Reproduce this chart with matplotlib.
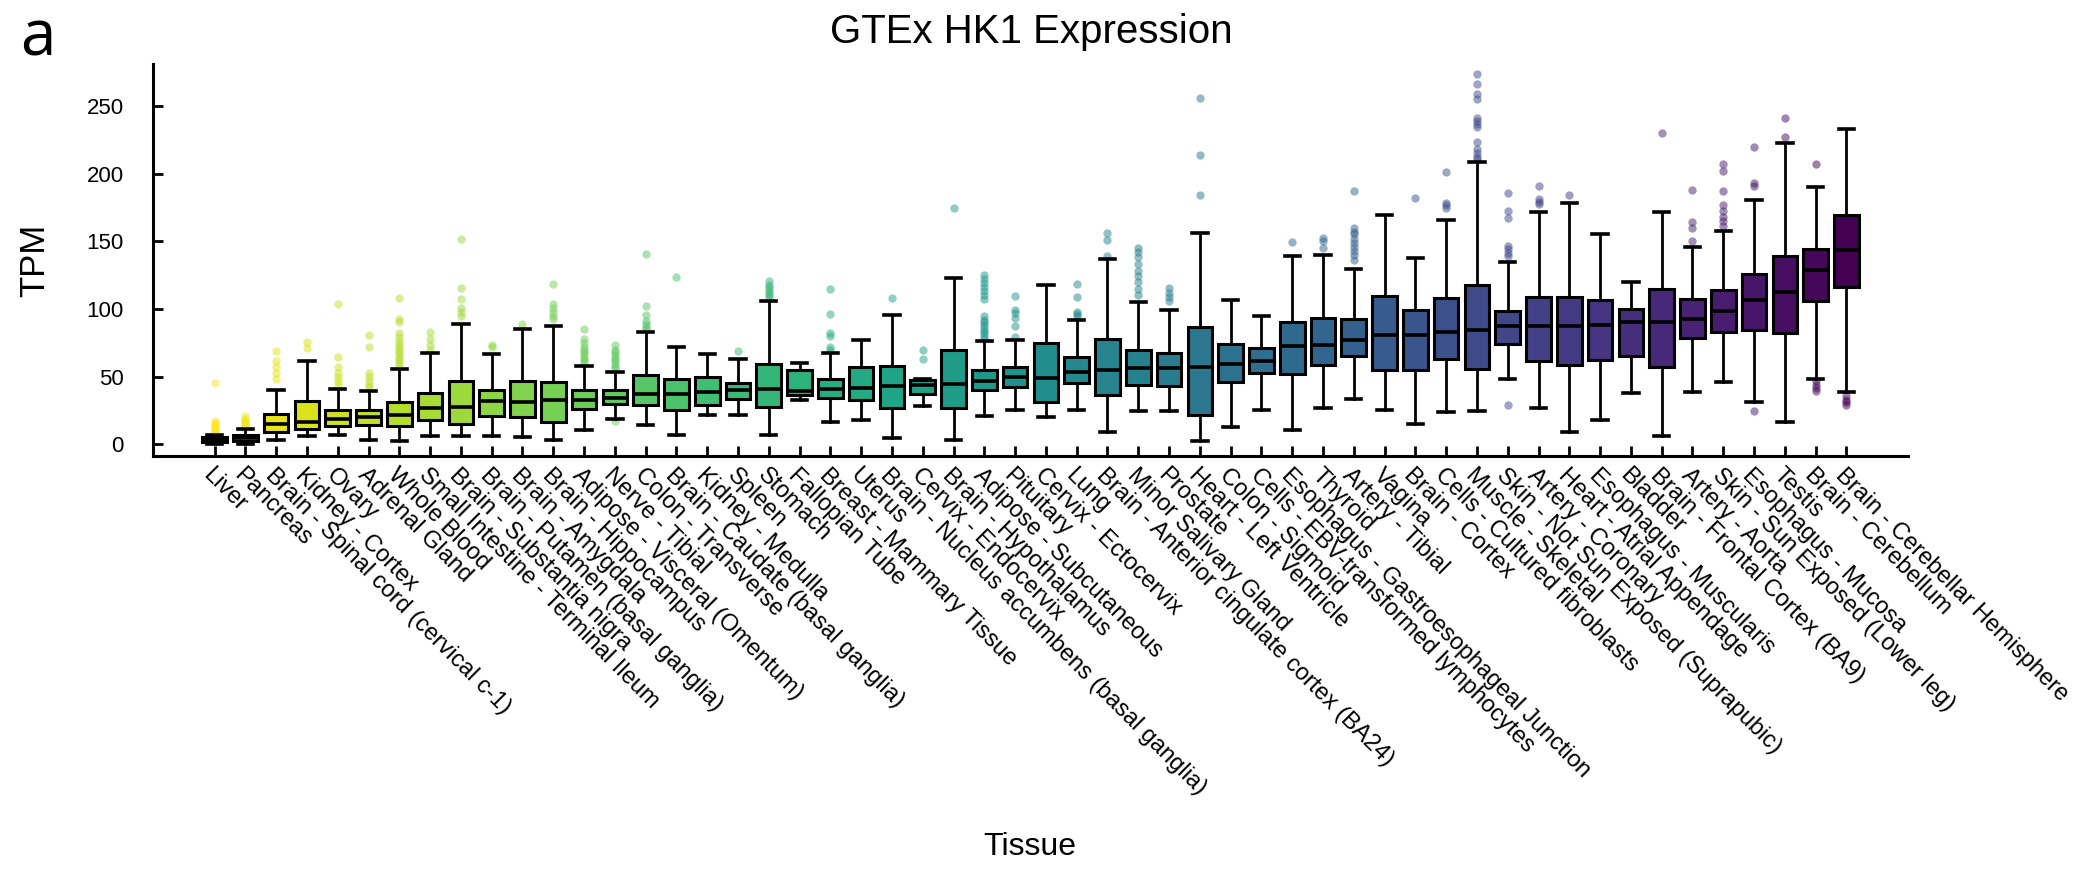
import matplotlib
matplotlib.use("Agg")
import matplotlib.pyplot as plt
import numpy as np

plt.rcParams['font.family'] = ['Liberation Sans', 'DejaVu Sans']

tissues = [
    "Liver", "Pancreas", "Brain - Spinal cord (cervical c-1)", "Kidney - Cortex", "Ovary",
    "Adrenal Gland", "Whole Blood", "Small Intestine - Terminal Ileum", "Brain - Substantia nigra",
    "Brain - Putamen (basal ganglia)", "Brain - Amygdala", "Brain - Hippocampus",
    "Adipose - Visceral (Omentum)", "Nerve - Tibial", "Colon - Transverse",
    "Brain - Caudate (basal ganglia)", "Kidney - Medulla", "Spleen", "Stomach", "Fallopian Tube",
    "Breast - Mammary Tissue", "Uterus", "Brain - Nucleus accumbens (basal ganglia)",
    "Cervix - Endocervix", "Brain - Hypothalamus", "Adipose - Subcutaneous", "Pituitary",
    "Cervix - Ectocervix", "Lung", "Brain - Anterior cingulate cortex (BA24)",
    "Minor Salivary Gland", "Prostate", "Heart - Left Ventricle", "Colon - Sigmoid",
    "Cells - EBV-transformed lymphocytes", "Esophagus - Gastroesophageal Junction", "Thyroid",
    "Artery - Tibial", "Vagina", "Brain - Cortex", "Cells - Cultured fibroblasts",
    "Muscle - Skeletal", "Skin - Not Sun Exposed (Suprapubic)", "Artery - Coronary",
    "Heart - Atrial Appendage", "Esophagus - Muscularis", "Bladder",
    "Brain - Frontal Cortex (BA9)", "Artery - Aorta", "Skin - Sun Exposed (Lower leg)",
    "Esophagus - Mucosa", "Testis", "Brain - Cerebellum", "Brain - Cerebellar Hemisphere",
]

whisker_low = [0.5, 0.3, 2.8, 5.8, 7.0, 2.8, 2.1, 5.8, 6.3, 5.8, 5.1, 2.8, 10.2, 19.0, 14.4,
               7.0, 21.3, 21.3, 6.5, 32.4, 16.4, 17.6, 4.6, 28.5, 3.3, 20.6, 25.0, 19.9, 25.5,
               8.8, 24.3, 24.3, 2.1, 12.7, 25.0, 10.7, 26.8, 33.4, 25.5, 14.9, 23.8, 24.3, 48.5,
               26.8, 8.8, 18.1, 37.9, 6.3, 38.6, 45.8, 31.2, 16.4, 48.2, 38.4]
q1 = [1.6, 2.6, 9.0, 11.2, 13.2, 14.4, 13.7, 17.6, 15.2, 21.1, 19.9, 16.4, 26.0, 30.0, 29.2,
      25.5, 28.7, 33.4, 27.5, 36.6, 34.1, 32.4, 27.1, 37.4, 26.8, 39.8, 42.3, 31.2, 45.2,
      36.6, 44.0, 43.3, 21.8, 46.0, 52.7, 51.9, 58.8, 65.5, 55.1, 55.1, 63.0, 55.9, 74.4,
      61.8, 58.8, 62.5, 65.5, 57.1, 78.6, 83.0, 84.7, 82.3, 105.7, 116.1]
median = [3.3, 4.8, 14.9, 16.4, 18.6, 19.9, 21.8, 26.8, 27.5, 31.7, 31.2, 32.4, 32.9, 34.2,
          37.1, 37.1, 38.6, 40.3, 40.8, 39.5, 40.8, 41.6, 42.8, 44.0, 44.5, 46.5, 49.7, 49.0,
          53.4, 54.7, 56.4, 56.4, 57.1, 59.3, 61.8, 72.4, 73.6, 76.9, 80.6, 80.6, 83.0, 84.2,
          87.2, 87.7, 87.7, 88.0, 90.2, 90.2, 92.9, 98.3, 106.9, 112.6, 128.7, 143.2]
q3 = [5.3, 7.0, 22.3, 32.2, 25.5, 25.5, 31.0, 37.9, 47.0, 40.3, 46.5, 45.8, 40.3, 39.8, 50.9,
      48.2, 49.5, 45.3, 59.6, 54.6, 48.2, 56.9, 58.1, 47.7, 69.9, 55.0, 57.1, 74.9, 64.3,
      77.8, 69.9, 67.5, 86.7, 74.4, 71.2, 90.4, 93.4, 92.2, 109.4, 99.0, 107.7, 117.6, 98.8,
      108.9, 108.9, 106.5, 100.3, 114.4, 107.4, 113.9, 126.0, 139.0, 144.5, 169.4]
whisker_high = [7.0, 11.0, 40.3, 61.3, 41.0, 39.0, 55.6, 67.5, 89.0, 66.7, 84.8, 87.7, 58.0,
                53.2, 82.8, 71.7, 66.7, 63.0, 105.7, 60.0, 67.5, 77.3, 95.8, 48.2, 123.0, 76.1,
                76.9, 118.0, 91.7, 136.6, 105.0, 99.5, 156.3, 106.5, 94.6, 139.0, 139.8, 129.6,
                169.4, 137.8, 165.7, 208.6, 134.6, 171.8, 178.5, 155.0, 120.0, 171.8, 145.7,
                157.5, 180.5, 222.4, 190.4, 232.8]
outliers = [
    [45, 17, 16, 15, 14, 13, 12, 11, 10, 9, 8],
    [20.5, 19, 18, 17, 16, 15, 14, 13, 12],
    [68.7, 61.3, 57, 53, 48.2],
    [75.6, 71.2],
    [104, 64.5, 57, 53, 50, 47, 44],
    [81, 72, 52.7, 50, 47, 44, 42],
    [108, 92.6, 90, 82, 79, 76, 74, 72, 70, 68, 66, 64, 62, 60, 58],
    [82.8, 77.8, 73.6, 70],
    [151.9, 115.6, 107.4, 100.8, 97.6, 94.6],
    [73.6, 72],
    [89.2],
    [118.6, 104, 100.8, 97.6, 95, 92.5],
    [85.2, 77.8, 75, 72, 70, 68, 66, 64, 62, 60],
    [73.6, 70, 68, 66, 64, 62, 60, 58, 56, 17],
    [140.7, 102, 95.4, 91, 89, 87, 85],
    [123.5],
    [],
    [69.2],
    [120.5, 118, 116, 114, 112, 110, 108],
    [],
    [114.8, 96.6, 82.2, 80, 71.7, 70],
    [],
    [108.2],
    [70, 63],
    [174.8],
    [125.4, 122, 119, 116, 113, 110, 107, 94.6, 92, 90, 88, 86, 84, 82, 80, 78],
    [109.4, 99.5, 97, 93.3, 87.2, 79.3],
    [],
    [118.6, 108.9, 98, 96, 94.6],
    [156.3, 151.3, 139],
    [145.3, 142, 138, 133, 128, 124, 120, 115, 110],
    [115.6, 112, 109, 106],
    [255.7, 214, 183.9],
    [],
    [],
    [149.4],
    [152.6, 150.2, 145.2],
    [187.1, 160, 157, 155, 152, 149, 146, 143, 140, 136],
    [],
    [181.7],
    [201.2, 178.5, 176.5, 174.8],
    [273.5, 266, 258.7, 255, 241.4, 239, 236.5, 234.7, 223.4, 218, 215, 212.5, 210.5],
    [185.9, 172.3, 167.4, 146.4, 144, 141.5, 139, 29.2],
    [190.8, 181, 179, 177.3],
    [184.2],
    [],
    [],
    [230.3],
    [187.6, 164.2, 159.5, 150.1],
    [206.9, 202, 187.1, 177, 172, 168, 165, 161],
    [220, 193.3, 190.8, 24.3],
    [240.9, 227.4],
    [206.9, 46.5, 44, 41.5, 39],
    [35.4, 33, 31, 29.2],
]

y_ticks = [0, 50, 100, 150, 200, 250]

n = len(tissues)
stats = [dict(label=tissues[i], whislo=whisker_low[i], q1=q1[i], med=median[i], q3=q3[i],
              whishi=whisker_high[i], fliers=np.array(outliers[i], dtype=float))
         for i in range(n)]

fig = plt.figure(figsize=(20.83, 8.72), dpi=100)
ax = fig.add_axes([153 / 2083, 1 - 456 / 872, (1908 - 153) / 2083, (456 - 64) / 872])

colors = plt.cm.viridis(np.linspace(1, 0, n))
res = ax.bxp(stats, positions=np.arange(n), widths=0.8, capwidths=0.5, patch_artist=True,
             showfliers=True,
             boxprops=dict(edgecolor='black', linewidth=2.2),
             whiskerprops=dict(color='black', linewidth=2.0),
             capprops=dict(color='black', linewidth=2.6),
             medianprops=dict(color='black', linewidth=2.6),
             flierprops=dict(marker='o', markersize=6, markeredgewidth=0, alpha=0.5))
for patch, c in zip(res['boxes'], colors):
    patch.set_facecolor(c)
for fl, c in zip(res['fliers'], colors):
    fl.set_markerfacecolor(c)
    fl.set_markeredgecolor('none')
    fl.set_zorder(1.5)

ax.set_xlim(-2, 55)
ax.set_ylim(-8.7, 281)
ax.set_yticks(y_ticks)
ax.set_xticks(np.arange(n))
ax.set_xticklabels(tissues, rotation=-45, ha='left', va='top', rotation_mode='anchor',
                   fontsize=17)
ax.tick_params(axis='x', direction='in', length=7, width=2, pad=6)
ax.tick_params(axis='y', direction='in', length=7, width=2, pad=21, labelsize=16)
for s in ['top', 'right']:
    ax.spines[s].set_visible(False)
for s in ['left', 'bottom']:
    ax.spines[s].set_linewidth(2.2)

fig.text(1031 / 2083, 1 - 43 / 872, "GTEx HK1 Expression", ha='center', va='baseline',
         fontsize=29)
fig.text(35 / 2083, 1 - 260 / 872, "TPM", rotation=90, ha='center', va='center', fontsize=25)
fig.text(1030 / 2083, 1 - 847 / 872, "Tissue", ha='center', va='center', fontsize=23)
fig.text(20 / 2083, 1 - 55 / 872, "a", ha='left', va='baseline', fontsize=46,
         family=['Open Sans', 'DejaVu Sans'])

fig.savefig("out.png", dpi=100)
